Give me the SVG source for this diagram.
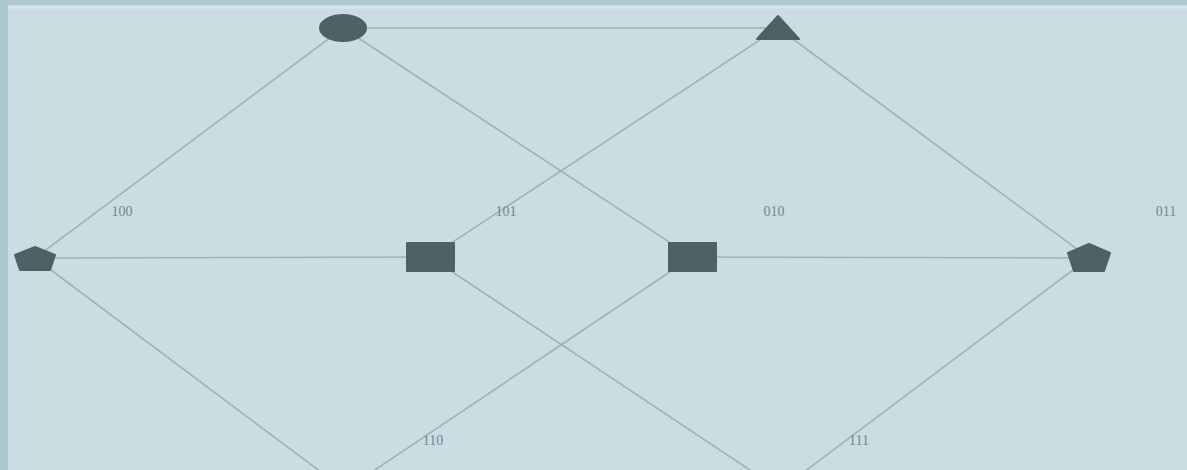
<svg xmlns="http://www.w3.org/2000/svg" width="1187" height="470" viewBox="0 0 1187 470">
<style>
.e{stroke:#9db2b9;stroke-width:1.6;fill:none}
.n{fill:#4f6067;stroke:#4f6067;stroke-width:2;stroke-linejoin:round}
.t{font-family:"Liberation Serif",serif;font-size:14px;fill:#72858c;text-anchor:middle}
</style>
<rect x="0" y="0" width="1187" height="470" fill="#cbdde2"/>
<rect x="0" y="0" width="1187" height="5" fill="#a9c9cf"/>
<rect x="0" y="0" width="8" height="470" fill="#a9c9cf"/>
<rect x="8" y="6" width="1179" height="3" fill="#d3e4e8"/>
<g id="connectors">
<line class="e" x1="343" y1="28" x2="778" y2="28"/>
<line class="e" x1="343" y1="28" x2="35" y2="258"/>
<line class="e" x1="343" y1="28" x2="692" y2="257"/>
<line class="e" x1="778" y1="28" x2="430" y2="257"/>
<line class="e" x1="778" y1="28" x2="1089" y2="258"/>
<line class="e" x1="35" y1="258" x2="430" y2="257"/>
<line class="e" x1="692" y1="257" x2="1089" y2="258"/>
<line class="e" x1="35" y1="258" x2="345" y2="490"/>
<line class="e" x1="692" y1="257" x2="345" y2="490"/>
<line class="e" x1="430" y1="257" x2="780" y2="490"/>
<line class="e" x1="1089" y1="258" x2="780" y2="490"/>
</g>
<g id="n000"><ellipse class="n" cx="343" cy="28" rx="23" ry="13"/></g>
<g id="n001"><polygon class="n" points="778,16 799,39 757,39"/></g>
<g id="n100"><polygon class="n" points="35,247 55,255 50,270 20,270 15,255"/></g>
<g id="n101"><rect class="n" x="407" y="243" width="47" height="28" stroke-linejoin="miter"/></g>
<g id="n010"><rect class="n" x="669" y="243" width="47" height="28" stroke-linejoin="miter"/></g>
<g id="n011"><polygon class="n" points="1089,244 1110,253 1104,271 1074,271 1068,253"/></g>
<g id="labels">
<text class="t" x="122" y="216">100</text>
<text class="t" x="506" y="216">101</text>
<text class="t" x="774" y="216">010</text>
<text class="t" x="1166" y="216">011</text>
<text class="t" x="433" y="445">110</text>
<text class="t" x="859" y="445">111</text>
</g>
</svg>
